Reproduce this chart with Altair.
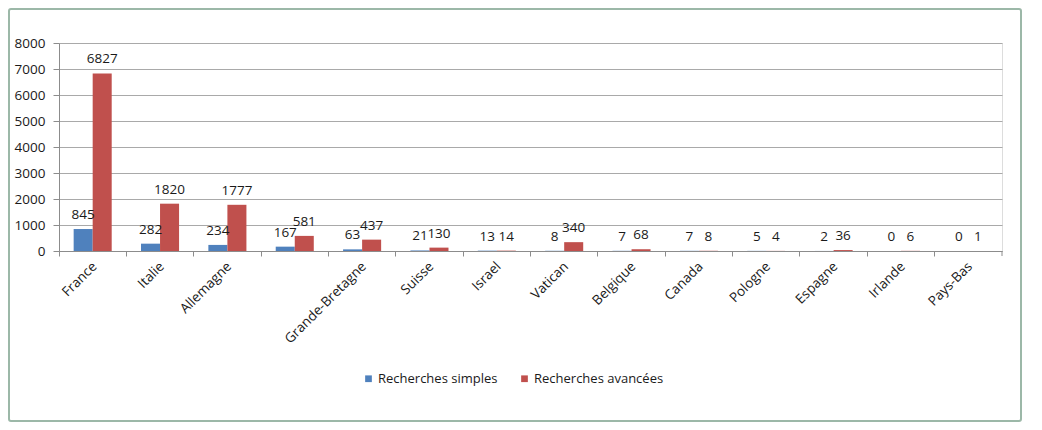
import altair as alt
import pandas as pd

pays = ["France", "Italie", "Allemagne", " ", "Grande-Bretagne", "Suisse", "Israel",
        "Vatican", "Belgique", "Canada", "Pologne", "Espagne", "Irlande", "Pays-Bas"]
simples = [845, 282, 234, 167, 63, 21, 13, 8, 7, 7, 5, 2, 0, 0]
avancees = [6827, 1820, 1777, 581, 437, 130, 14, 340, 68, 8, 4, 36, 6, 1]
series = ["Recherches simples", "Recherches avancées"]
couleurs = ["#4F81BD", "#C0504D"]
y_ticks = [0, 1000, 2000, 3000, 4000, 5000, 6000, 7000, 8000]

rows = []
for p, s, a in zip(pays, simples, avancees):
    rows.append({"pays": p, "serie": series[0], "valeur": s})
    rows.append({"pays": p, "serie": series[1], "valeur": a})
df = pd.DataFrame(rows)

W, H = 943, 208
FONT = "Open Sans"

x_enc = alt.X(
    "pays:N", sort=pays,
    scale=alt.Scale(paddingInner=0, paddingOuter=0),
    axis=alt.Axis(
        title=None, labelAngle=315, labelAlign="right", labelBaseline="middle",
        bandPosition=0, labelOffset=2, labelPadding=8,
        tickSize=5, tickColor="#8c8c8c", domainColor="#8c8c8c",
        labelFont=FONT, labelFontSize=13.5, labelColor="#1a1a1a", grid=False,
    ),
)
xoff = alt.XOffset("serie:N", sort=series,
                   scale=alt.Scale(paddingInner=0, paddingOuter=0.77))
y_enc = alt.Y(
    "valeur:Q",
    scale=alt.Scale(domain=[0, 8000], nice=False),
    axis=alt.Axis(
        title=None, values=y_ticks, format="d", grid=True, gridColor="#a9a9a9",
        domainColor="#8c8c8c", tickColor="#8c8c8c", tickSize=6,
        labelFont=FONT, labelFontSize=13.5, labelColor="#1a1a1a", labelPadding=8,
    ),
)
color = alt.Color(
    "serie:N", sort=series,
    scale=alt.Scale(domain=series, range=couleurs),
    legend=alt.Legend(
        title=None, orient="none", legendX=303, legendY=329, direction="horizontal",
        symbolType="square", symbolSize=45, symbolStrokeWidth=0,
        labelFont=FONT, labelFontSize=13, labelColor="#1a1a1a",
        columnPadding=20, symbolOffset=0, labelOffset=3,
    ),
)

base = alt.Chart(df)
bars = base.mark_bar().encode(x=x_enc, xOffset=xoff, y=y_enc, color=color)
labels = base.mark_text(baseline="bottom", dy=-7, font=FONT, fontSize=13.5,
                        color="#1a1a1a").encode(
    x=x_enc, xOffset=xoff, y=y_enc, text="valeur:Q")

frame_df = pd.DataFrame({"k": [0]})
end_tick = alt.Chart(frame_df).mark_rule(color="#8c8c8c").encode(
    x=alt.value(W), y=alt.value(H), y2=alt.value(H + 5))
border = alt.Chart(frame_df).mark_rect(
    fill=None, stroke="#9cb8a8", strokeWidth=2, cornerRadius=2).encode(
    x=alt.value(-50), x2=alt.value(962), y=alt.value(-34), y2=alt.value(378))

chart = alt.layer(border, bars, labels, end_tick).properties(
    width=W, height=H,
    autosize=alt.AutoSizeParams(type="none"),
    padding={"left": 51, "top": 35, "right": 32, "bottom": 171},
).configure_view(stroke=None).configure(background="white")

chart.save("out.html", embed_options={"renderer": "svg", "actions": False})
